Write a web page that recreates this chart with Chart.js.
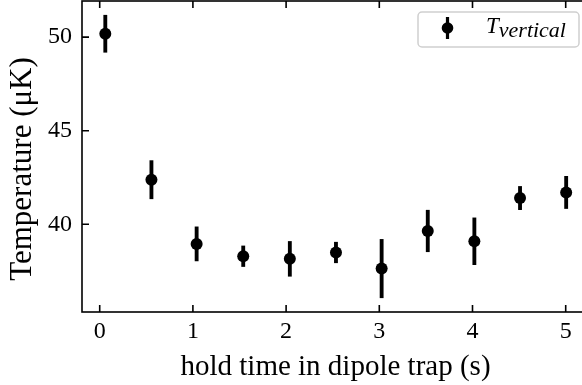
<!DOCTYPE html>
<html><head><meta charset="utf-8">
<script src="https://cdn.jsdelivr.net/npm/chart.js@4"></script>
<style>html,body{margin:0;padding:0;background:#fff;overflow:hidden}
#wrap{width:600px;height:385px;position:relative}</style>
</head><body><div id="wrap"><canvas id="c" width="600" height="385"></canvas></div>
<script>
// ---- data ----
const holdTimes    = [0.06, 0.555, 1.04, 1.54, 2.04, 2.535, 3.025, 3.52, 4.02, 4.51, 5.005];
const temperatures = [50.18, 42.38, 38.95, 38.29, 38.15, 38.49, 37.63, 39.64, 39.09, 41.40, 41.70];
const tempErrors   = [0.99, 1.02, 0.91, 0.55, 0.93, 0.55, 1.56, 1.11, 1.25, 0.62, 0.86];
const xTicks = [0, 1, 2, 3, 4, 5];
const yTicks = [40, 45, 50];
const xTitle = 'hold time in dipole trap (s)';
const yTitle = 'Temperature (\u03BCK)';
const legendMain = 'T';
const legendSub = 'vertical';

const FONT = "'Liberation Serif', 'Times New Roman', serif";
const TICK_SIZE = 24;

const framePlugin = {
  id: 'frame',
  afterDraw(chart) {
    const ctx = chart.ctx, a = chart.chartArea;
    const xs = chart.scales.x, ys = chart.scales.y;
    ctx.save();
    ctx.strokeStyle = '#000';
    ctx.lineWidth = 1.6;
    ctx.strokeRect(a.left, a.top, a.right - a.left, a.bottom - a.top);
    const L = 7;
    ctx.beginPath();
    xTicks.forEach(v => {
      const px = xs.getPixelForValue(v);
      ctx.moveTo(px, a.bottom); ctx.lineTo(px, a.bottom - L);
      ctx.moveTo(px, a.top); ctx.lineTo(px, a.top + L);
    });
    yTicks.forEach(v => {
      const py = ys.getPixelForValue(v);
      ctx.moveTo(a.left, py); ctx.lineTo(a.left + L, py);
      ctx.moveTo(a.right, py); ctx.lineTo(a.right - L, py);
    });
    ctx.stroke();

    // y axis title
    ctx.save();
    ctx.translate(23, 169);
    ctx.rotate(-Math.PI / 2);
    ctx.fillStyle = '#000';
    ctx.font = '31px ' + FONT;
    ctx.textAlign = 'center';
    ctx.textBaseline = 'middle';
    ctx.fillText(yTitle, 0, 0);
    ctx.restore();

    // legend
    const bx = 418, by = 12, bw = 161, bh = 35, r = 4;
    ctx.beginPath();
    ctx.roundRect(bx, by, bw, bh, r);
    ctx.fillStyle = 'rgba(255,255,255,0.8)';
    ctx.fill();
    ctx.strokeStyle = '#cfcfcf';
    ctx.lineWidth = 1.5;
    ctx.stroke();
    const mx = 447.5, my = 28;
    ctx.fillStyle = '#000';
    ctx.fillRect(mx - 1.6, my - 11, 3.2, 22);
    ctx.beginPath(); ctx.arc(mx, my, 5.8, 0, Math.PI * 2); ctx.fill();
    ctx.textBaseline = 'alphabetic';
    ctx.textAlign = 'left';
    ctx.font = 'italic 23px ' + FONT;
    ctx.fillText(legendMain, 486, 33);
    const tw = ctx.measureText(legendMain).width;
    ctx.font = 'italic 22px ' + FONT;
    ctx.fillText(legendSub, 486 + tw, 37);
    ctx.restore();
  }
};

new Chart(document.getElementById('c'), {
  data: {
    datasets: [
      {
        type: 'bar',
        data: holdTimes.map((x, i) => ({ x: x, y: [temperatures[i] - tempErrors[i], temperatures[i] + tempErrors[i]] })),
        backgroundColor: '#000', borderWidth: 0, barThickness: 3.2, order: 2
      },
      {
        type: 'scatter',
        data: holdTimes.map((x, i) => ({ x: x, y: temperatures[i] })),
        backgroundColor: '#000', borderWidth: 0, pointRadius: 6, order: 1
      }
    ]
  },
  options: {
    responsive: false, animation: false, devicePixelRatio: 1,
    layout: { autoPadding: false, padding: { top: 1, right: 11, left: 0, bottom: 0 } },
    plugins: { legend: { display: false }, tooltip: { enabled: false } },
    scales: {
      x: {
        type: 'linear', min: -0.19, max: 5.25, offset: false,
        afterBuildTicks: s => { s.ticks = xTicks.map(v => ({ value: v })); },
        afterFit: s => { s.height = 73; s.paddingLeft = 0; s.paddingRight = 0; s.paddingTop = 0; s.paddingBottom = 0; },
        grid: { display: false, drawTicks: false }, border: { display: false },
        ticks: { font: { family: FONT, size: TICK_SIZE }, color: '#000', padding: 5, maxRotation: 0 },
        title: { display: true, text: xTitle, color: '#000', font: { family: FONT, size: 29 }, padding: { top: 0, bottom: 0 } }
      },
      y: {
        type: 'linear', min: 35.31, max: 51.93,
        afterBuildTicks: s => { s.ticks = yTicks.map(v => ({ value: v })); },
        afterFit: s => { s.width = 82; s.paddingTop = 0; s.paddingBottom = 0; s.paddingLeft = 0; s.paddingRight = 0; },
        grid: { display: false, drawTicks: false }, border: { display: false },
        ticks: { font: { family: FONT, size: TICK_SIZE }, color: '#000', padding: 10 },
        title: { display: false }
      }
    }
  },
  plugins: [framePlugin]
});
</script>
</body></html>
